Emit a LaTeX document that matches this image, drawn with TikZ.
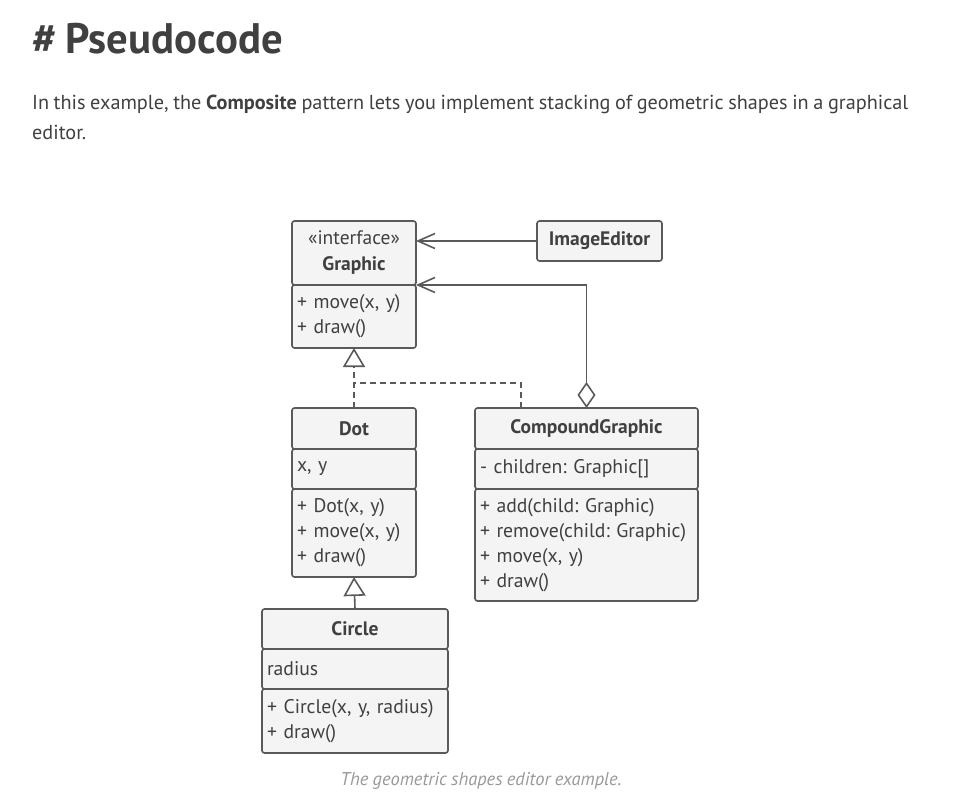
\documentclass[tikz,border=0pt]{standalone}
\usepackage{fontspec}
\setmainfont{PT Sans}[WordSpace=0.85]
\frenchspacing
\usetikzlibrary{arrows.meta,positioning}
\definecolor{umlline}{HTML}{5A5A5A}
\definecolor{umlfill}{HTML}{F4F4F4}
\definecolor{umltext}{HTML}{404040}
\definecolor{capgray}{HTML}{999999}

\begin{document}
\begin{tikzpicture}[x=1pt, y=-1pt,
    sect/.style={draw=umlline, fill=umlfill, line width=1.6pt,
                 rounded corners=2.5pt, outer sep=0pt,
                 inner xsep=5pt, inner ysep=0pt, text=umltext,
                 font=\fontsize{19.7}{25}\selectfont},
    head/.style={sect, align=center, font=\fontsize{19.5}{26}\selectfont\bfseries},
    body/.style={sect, align=left},
    conn/.style={draw=umlline, line width=1.6pt},
    assoc/.style={conn, -{Straight Barb[length=17pt, width=15pt]}},
    aggr/.style={conn, {Diamond[fill=white, length=26pt, width=18pt]}-{Straight Barb[length=17pt, width=15pt]}},
    inherit/.style={conn, -{Triangle[fill=white, length=19pt, width=22pt]}},
    realize/.style={inherit, dash pattern=on 6pt off 4pt},
    dashline/.style={conn, dash pattern=on 6pt off 4pt}
  ]
  \useasboundingbox (0,0) rectangle (960,810);

  % Heading and text
  \node[anchor=base west, text=umltext, inner sep=0pt,
        font=\fontsize{42.7}{48}\selectfont\bfseries] (title) at (32,54) {\# Pseudocode};
  \node[anchor=base west, text=umltext, inner sep=0pt,
        font=\fontsize{20.25}{30}\selectfont] (para1) at (32,110)
        {In this example, the \textbf{Composite} pattern lets you implement stacking of geometric shapes in a graphical};
  \node[anchor=base west, text=umltext, inner sep=0pt,
        font=\fontsize{20.25}{30}\selectfont] (para2) at (32,140) {editor.};

  % Graphic
  \node[head, anchor=north west, minimum width=124pt, minimum height=64pt] (ghead) at (292,221)
       {\mdseries«interface»\\Graphic};
  \node[body, below=0pt of ghead, text width=114pt, minimum height=63pt] (gmeth)
       {+ move(x, y)\\+ draw()};

  % ImageEditor
  \node[head, anchor=north west, minimum width=125pt, minimum height=40pt] (editor) at (537,221)
       {ImageEditor};

  % Dot
  \node[head, anchor=north west, minimum width=124pt, minimum height=41pt] (dot) at (292,408) {Dot};
  \node[body, below=0pt of dot, text width=114pt, minimum height=40pt] (dotattr) {x, y};
  \node[body, below=0pt of dotattr, text width=114pt, minimum height=88pt] (dotmeth)
       {+ Dot(x, y)\\+ move(x, y)\\+ draw()};

  % CompoundGraphic
  \node[head, anchor=north west, minimum width=223pt, minimum height=41pt] (compound) at (475,408)
       {CompoundGraphic};
  \node[body, below=0pt of compound, text width=213pt, minimum height=40pt] (compattr)
       {- children: Graphic[]};
  \node[body, below=0pt of compattr, text width=213pt, minimum height=112pt] (compmeth)
       {+ add(child: Graphic)\\+ remove(child: Graphic)\\+ move(x, y)\\+ draw()};

  % Circle
  \node[head, anchor=north west, minimum width=186pt, minimum height=40pt] (circle) at (262,609)
       {Circle};
  \node[body, below=0pt of circle, text width=176pt, minimum height=40pt] (circattr) {radius};
  \node[body, below=0pt of circattr, text width=176pt, minimum height=64pt] (circmeth)
       {+ Circle(x, y, radius)\\+ draw()};

  % Caption
  \node[text=capgray, font=\fontsize{18.5}{20}\selectfont\itshape] (caption) at (481,781)
       {The geometric shapes editor example.};

  % Connectors
  \coordinate (gfork) at (354,383);
  \coordinate (ctop) at (521,408);
  \draw[assoc] (editor.west) -- (ghead.east |- editor.west);
  \draw[aggr] (compound.north) |- (gmeth.north east);
  \draw[realize] (dot.north) -- (gmeth.south);
  \draw[dashline] (ctop) |- (gfork);
  \draw[inherit] (circle.north) -- (dotmeth.south);
\end{tikzpicture}
\end{document}
